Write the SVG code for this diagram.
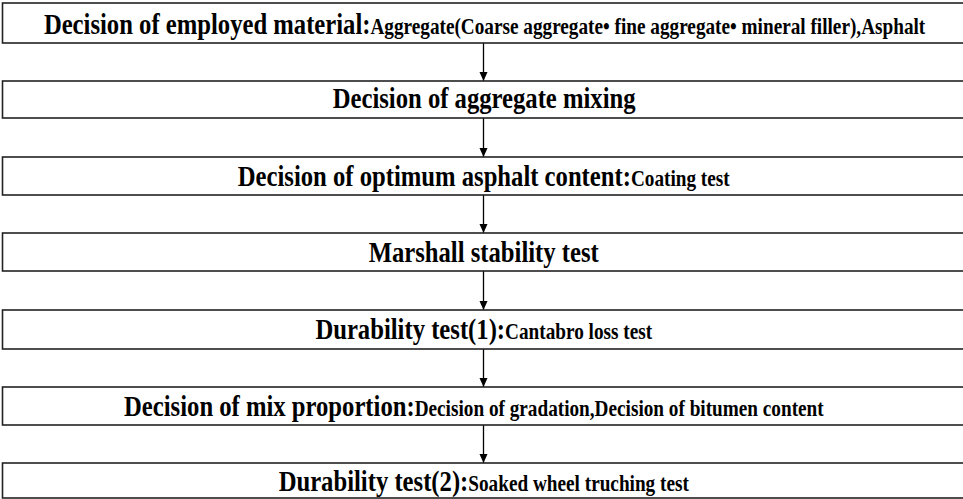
<svg xmlns="http://www.w3.org/2000/svg" width="963" height="499" viewBox="0 0 963 499">
<style>
.box{fill:#fff;stroke:#222;stroke-width:1.6}
.t{font-family:'Liberation Serif','Times New Roman',serif;font-weight:700;fill:#000;text-anchor:middle}
.m{font-size:30px}
.s{font-size:23.4px}
.c{stroke:#000;stroke-width:1.3;fill:none}
.a{fill:#000}
</style>
<rect width="963" height="499" fill="#fff"/>
<g id="connectors">
<line class="c" x1="483.5" y1="43" x2="483.5" y2="81"/>
<path class="a" d="M479.5,72 L487.5,72 L483.5,81 Z"/>
<line class="c" x1="483.5" y1="118" x2="483.5" y2="157"/>
<path class="a" d="M479.5,148 L487.5,148 L483.5,157 Z"/>
<line class="c" x1="483.5" y1="195" x2="483.5" y2="233"/>
<path class="a" d="M479.5,224 L487.5,224 L483.5,233 Z"/>
<line class="c" x1="483.5" y1="271" x2="483.5" y2="310"/>
<path class="a" d="M479.5,301 L487.5,301 L483.5,310 Z"/>
<line class="c" x1="483.5" y1="349" x2="483.5" y2="387"/>
<path class="a" d="M479.5,378 L487.5,378 L483.5,387 Z"/>
<line class="c" x1="483.5" y1="425" x2="483.5" y2="463"/>
<path class="a" d="M479.5,454 L487.5,454 L483.5,463 Z"/>
</g>
<g id="node1">
<rect class="box" x="2.5" y="3" width="966" height="40"/>
<text class="t" transform="scale(0.822,1)" x="589.5" y="34"><tspan class="m">Decision of employed material:</tspan><tspan class="s">Aggregate(Coarse aggregate• fine aggregate• mineral filler),Asphalt</tspan></text>
</g>
<g id="node2">
<rect class="box" x="2.5" y="81" width="966" height="37"/>
<text class="t m" transform="scale(0.822,1)" x="589" y="108">Decision of aggregate mixing</text>
</g>
<g id="node3">
<rect class="box" x="2.5" y="157" width="966" height="38"/>
<text class="t" transform="scale(0.822,1)" x="588.5" y="186"><tspan class="m">Decision of optimum asphalt content:</tspan><tspan class="s">Coating test</tspan></text>
</g>
<g id="node4">
<rect class="box" x="2.5" y="233" width="966" height="38"/>
<text class="t m" transform="scale(0.822,1)" x="588.5" y="262">Marshall stability test</text>
</g>
<g id="node5">
<rect class="box" x="2.5" y="310" width="966" height="39"/>
<text class="t" transform="scale(0.822,1)" x="588.5" y="339"><tspan class="m">Durability test(1):</tspan><tspan class="s">Cantabro loss test</tspan></text>
</g>
<g id="node6">
<rect class="box" x="2.5" y="387" width="966" height="38"/>
<text class="t" transform="scale(0.822,1)" x="576.5" y="416"><tspan class="m">Decision of mix proportion:</tspan><tspan class="s">Decision of gradation,Decision of bitumen content</tspan></text>
</g>
<g id="node7">
<rect class="box" x="2.5" y="463" width="966" height="35"/>
<text class="t" transform="scale(0.822,1)" x="588.5" y="491"><tspan class="m">Durability test(2):</tspan><tspan class="s">Soaked wheel truching test</tspan></text>
</g>
</svg>
